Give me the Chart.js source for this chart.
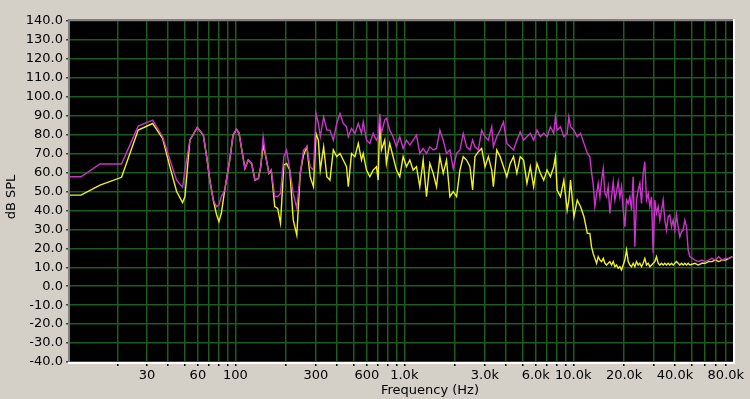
<!DOCTYPE html>
<html>
<head>
<meta charset="utf-8">
<script src="https://cdn.jsdelivr.net/npm/chart.js@4/dist/chart.umd.min.js"></script>
<style>
html, body { margin: 0; padding: 0; background: #d4d0c8; }
</style>
</head>
<body>
<canvas id="spl" width="750" height="399"></canvas>
<script>
// frequency bins (Hz)
const freqs = [10.5, 12.2, 15.8, 21.2, 26.6, 32.4, 37.1, 41, 44.9, 48.7, 50.3, 53.8, 59.5, 64.6, 67.6, 70.6, 74, 77.3, 79.9, 82.6,
  86.5, 92.6, 96.9, 101.5, 105.2, 108.8, 113.9, 119.2, 124.8, 130.6, 136.8, 141.3, 146, 150.8, 158, 163, 171, 178, 185, 193.6,
  201, 210, 220, 231, 242, 253, 265, 277, 290, 300, 310, 318, 333, 348,
  363, 380, 398, 416, 435, 455, 466, 487, 510, 534, 558, 571, 597, 625, 654, 684, 700, 716, 732, 766,
  783, 820, 858, 898, 940, 984, 1030, 1078, 1128, 1180, 1235, 1293, 1353, 1416, 1482, 1551, 1623, 1699, 1778, 1861,
  1948, 2039, 2134,
  2232, 2337, 2446, 2537, 2619, 2742, 2870, 3004, 3144, 3292, 3367, 3525, 3690, 3862, 4043, 4232, 4430, 4637, 4854, 5081,
  5318, 5567, 5827, 6100, 6385, 6684, 6996, 7323, 7666, 7843, 8024, 8400, 8793, 9204, 9417, 9635, 10086, 10557, 11051, 11568,
  12109,
  12535, 12820, 13110, 13420, 13740, 14050, 14380, 14710, 15050, 15390, 15740, 16100, 16470, 16850, 17240, 17640, 18040, 18450,
  18880, 19310, 19750, 20200, 20670, 21150, 21630, 22120, 22630, 23150, 23680, 24230, 24780, 25350, 25930, 26520, 27130, 27760,
  28400, 29050, 29710, 30390, 31090, 31810, 32540, 33280, 34050, 34830, 35630, 36450, 37290, 38140, 39020, 39910, 40830, 41770,
  42730, 43710, 44710, 45740, 46790, 47870, 48970,
  52530, 55010, 57620, 60350, 63210, 66200, 69340, 72620, 76060, 79660, 83430, 87380];

// magenta trace (dB SPL)
const splMagenta = [57.8, 57.8, 64.5, 64.5, 84.5, 87.7, 78.9, 66.6, 56.0, 52.2, 61.3, 77.1, 83.8, 79.8, 68.4, 56.0, 45.5, 42, 42.9, 47.3,
  50.8, 66.6, 79.8, 82.8, 80.7, 72.7, 62.2, 66.6, 64.8, 56.0, 56.9, 63.1, 78.9, 69.2, 59.6, 61.3, 47.3, 47.3, 49, 68.4,
  71.9, 61.3, 49, 41.1, 59.6, 71.9, 73.6, 63.1, 61.3, 91.2, 85.9, 78.9, 89.4, 82.4,
  82.4, 77.1, 85.9, 91.2, 85.9, 84.2, 78.9, 83.3, 80.7, 85.9, 80.7, 86.8, 77.1, 75.4, 80.7, 77.1, 78.9, 91, 80.7, 87.7,
  88.6, 82.4, 78.9, 73.6, 78.9, 72.7, 77.1, 74.5, 77.1, 79.8, 70.1, 72.7, 70.1, 73.6, 71.9, 72.7, 82.4, 77.1, 70.1, 71.9,
  62, 70.1, 71.9,
  80.7, 73.6, 71.9, 77.1, 73.6, 71.9, 82.4, 78.9, 77.1, 84.2, 73.6, 78.9, 82.4, 86.8, 75.4, 73.6, 71.9, 77.1, 81.5, 77.1,
  78.9, 80.7, 77.1, 82.4, 78.9, 80.7, 78.9, 84.2, 80.7, 89.4, 82.4, 84.2, 78.9, 80.7, 89.4, 84.2, 82.4, 78.9, 80.7, 75.4,
  70.1,
  68.3, 60.4, 54.3, 42.0, 49.0, 54.3, 47.2, 56.0, 62.2, 49.0, 47.2, 52.5, 38.4, 47.2, 55.1, 45.5, 49.9, 55.1,
  47.2, 52.5, 40.2, 31.4, 45.5, 43.7, 47.2, 40.2, 57.8, 20.9, 45.5, 50.8, 54.3, 43.7, 59.5, 65.7, 45.5, 49.0,
  42.0, 47.2, 17.4, 45.5, 38.4, 42.0, 34.9, 40.2, 45.5, 34.9, 29.7, 36.7, 37.6, 31.4, 34.9, 29.7, 37.6, 31.4,
  26.1, 28.8, 29.7, 34.9, 31.4, 19.1, 15.6,
  13.8, 13, 13.8, 13, 13.8, 14.7, 13.8, 15.6, 13.8, 14.7, 14.7, 15.6];

// yellow trace (dB SPL)
const splYellow = [48.1, 48.1, 53.4, 57.5, 82.4, 85.9, 78, 63, 50, 44.1, 47.3, 77.1, 83.8, 79.8, 68.4, 56.0, 45.5, 38, 34.1, 38.5,
  50.8, 66.6, 79.8, 82.8, 80.7, 72.7, 62.2, 66.6, 64.8, 56.0, 56.9, 63.1, 74.5, 69.2, 59.6, 61.3, 42, 41.1, 33.2, 64,
  64.8, 61.3, 35, 27, 59.6, 69.2, 73.6, 57.8, 52.5, 80.7, 77.1, 61.3, 73.6, 57.8,
  56.0, 71.9, 68.4, 70.1, 66.6, 63.1, 52.5, 70.1, 68.4, 75.4, 66.6, 70.1, 61.3, 57.8, 61.3, 63.1, 56.0, 89, 71.9, 77.1,
  64.8, 75.4, 68.4, 61.3, 57.8, 68.4, 63.1, 66.6, 61.3, 63.1, 52.5, 66.6, 47.3, 64.8, 59.6, 52.5, 68.4, 59.6, 66.6, 47.3,
  50, 47.3, 61.3,
  68.4, 66.6, 63.1, 50.8, 68.4, 71, 72.7, 63.1, 68.4, 61.3, 52.5, 71.9, 68.4, 63.1, 57.8, 64.8, 68.4, 59.6, 68.4, 66.6,
  54.3, 63.1, 52.5, 64.8, 59.6, 56.0, 61.3, 57.8, 63.1, 68.4, 50.8, 47.3, 56.0, 40.2, 45.5, 56.0, 36.7, 45.5, 42, 36.7,
  27.9,
  27.9, 20.9, 17.4, 14.7, 12.1, 15.6, 13.8, 13.0, 14.7, 12.1, 11.2, 12.1, 13.0, 11.2, 13.0, 10.3, 11.2, 9.5,
  10.3, 8.6, 11.2, 13.8, 19.1, 13.0, 11.2, 10.3, 12.1, 10.3, 13.0, 11.2, 12.1, 10.3, 12.1, 14.7, 11.2, 12.1,
  10.3, 11.2, 12.1, 13.0, 15.6, 12.1, 11.2, 12.1, 11.2, 12.1, 11.2, 12.1, 11.2, 12.1, 11.2, 12.1, 13.0, 12.1,
  11.2, 12.1, 11.2, 12.1, 11.2, 12.1, 11.2,
  12.1, 11.2, 12.1, 12.1, 13, 13, 13.8, 13, 13.8, 13.8, 14.7, 15.6];

// vertical grid lines and the ones that carry a label
const gridFreqs = [20, 30, 40, 50, 60, 70, 80, 90, 100, 200, 300, 400, 500, 600, 700, 800, 900,
  1000, 2000, 3000, 4000, 5000, 6000, 7000, 8000, 9000, 10000, 20000, 30000, 40000, 50000, 60000, 70000, 80000];
const labelFreqs = [30, 60, 100, 300, 600, 1000, 3000, 6000, 10000, 20000, 40000, 80000];

Chart.defaults.font.family = '"DejaVu Sans", sans-serif';
Chart.defaults.font.size = 13;
Chart.defaults.color = '#000';

const plotFrame = {
  id: 'plotFrame',
  beforeDraw(chart) {
    const { ctx, chartArea: a } = chart;
    ctx.save();
    ctx.fillStyle = '#000';
    ctx.fillRect(a.left, a.top, a.right - a.left, a.bottom - a.top);
    ctx.restore();
  },
  afterDraw(chart) {
    const { ctx, chartArea: a } = chart;
    ctx.save();
    ctx.lineWidth = 2;
    ctx.strokeStyle = '#808080';
    ctx.beginPath();
    ctx.moveTo(a.left - 1, a.bottom);
    ctx.lineTo(a.left - 1, a.top - 1);
    ctx.lineTo(a.right, a.top - 1);
    ctx.stroke();
    ctx.strokeStyle = '#fff';
    ctx.beginPath();
    ctx.moveTo(a.left - 2, a.bottom + 1);
    ctx.lineTo(a.right + 1, a.bottom + 1);
    ctx.lineTo(a.right + 1, a.top - 2);
    ctx.stroke();
    // axis titles
    ctx.fillStyle = '#000';
    ctx.font = '13px "DejaVu Sans", sans-serif';
    ctx.textAlign = 'center';
    ctx.textBaseline = 'alphabetic';
    ctx.fillText('Frequency (Hz)', 430, 394);
    ctx.translate(15, 197);
    ctx.rotate(-Math.PI / 2);
    ctx.fillText('dB SPL', 0, 0);
    ctx.restore();
  }
};

const gridColor = '#1e5c1e';

new Chart(document.getElementById('spl'), {
  type: 'line',
  data: {
    datasets: [{
      label: 'magenta',
      data: freqs.map((f, i) => ({ x: f, y: splMagenta[i] })),
      borderColor: '#cc33cc',
      borderWidth: 1.4,
      pointRadius: 0,
      tension: 0
    }, {
      label: 'yellow',
      data: freqs.map((f, i) => ({ x: f, y: splYellow[i] })),
      borderColor: '#f2f21e',
      borderWidth: 1.4,
      pointRadius: 0,
      tension: 0
    }]
  },
  options: {
    responsive: false,
    animation: false,
    layout: { padding: { top: 21, right: 17, left: 0, bottom: 0 } },
    plugins: { legend: { display: false }, tooltip: { enabled: false } },
    scales: {
      x: {
        type: 'logarithmic',
        min: 10.5,
        max: 88200,
        afterBuildTicks: s => { s.ticks = gridFreqs.map(v => ({ value: v })); },
        afterFit: s => { s.height = 37; },
        ticks: {
          autoSkip: false,
          maxRotation: 0,
          padding: 2,
          callback: v => labelFreqs.includes(v) ? (v >= 1000 ? (v / 1000).toFixed(1) + 'k' : String(v)) : ''
        },
        grid: { color: gridColor, lineWidth: 1.5, tickLength: 4, tickColor: '#000' },
        border: { display: false }
      },
      y: {
        min: -40,
        max: 140,
        afterFit: s => { s.width = 70; },
        ticks: { stepSize: 10, padding: 3, callback: v => v.toFixed(1) },
        grid: { color: gridColor, lineWidth: 1.5, tickLength: 4, tickColor: '#404040' },
        border: { display: false }
      }
    }
  },
  plugins: [plotFrame]
});
</script>
</body>
</html>
